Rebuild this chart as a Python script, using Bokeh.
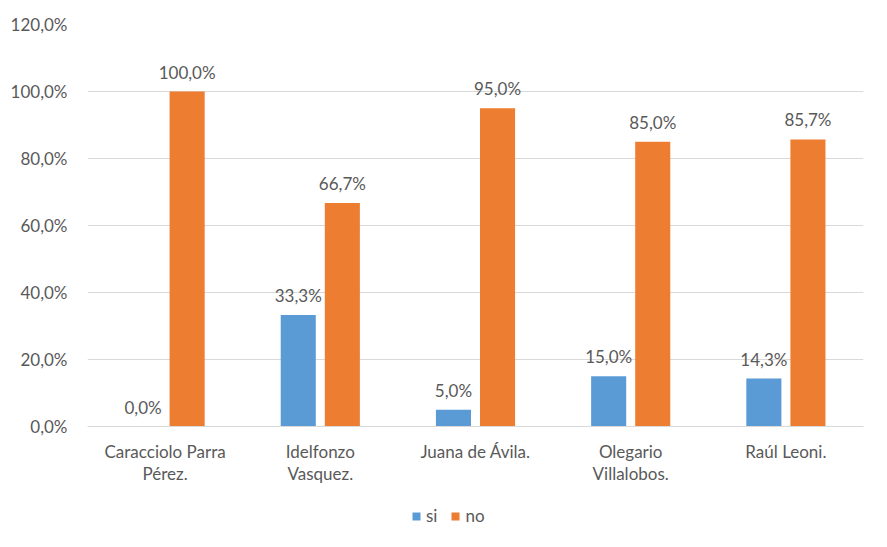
from bokeh.plotting import figure
from bokeh.models import ColumnDataSource, FixedTicker, Legend, LegendItem
from bokeh.transform import dodge
from bokeh.core.properties import value
from bokeh.embed import file_html
from bokeh.resources import INLINE

categories = ["Caracciolo Parra\nPérez.", "Idelfonzo\nVasquez.", "Juana de Ávila.",
              "Olegario\nVillalobos.", "Raúl Leoni."]
si = [0.0, 33.3, 5.0, 15.0, 14.3]
no = [100.0, 66.7, 95.0, 85.0, 85.7]
y_ticks = [0, 20, 40, 60, 80, 100, 120]
y_tick_labels = ["0,0%", "20,0%", "40,0%", "60,0%", "80,0%", "100,0%", "120,0%"]

FONT = "Lato"
FS = "17px"
TXT = "#595959"
BLUE = "#5B9BD5"
ORANGE = "#ED7D31"

# layout geometry (pixels)
W, H = 871, 531
LEFT, RIGHT, TOP = 87, 8, 24
FRAME_H = H - TOP
PLOT_H = 402            # pixels between 0 % and 120 %
Y_MAX = 120
y_min = -Y_MAX * (FRAME_H - PLOT_H) / PLOT_H   # room below the axis for labels + legend

def fmt(v):
    return f"{v:.1f}%".replace(".", ",")

src = ColumnDataSource(dict(
    cat=categories, si=si, no=no,
    si_lbl=[fmt(v) for v in si], no_lbl=[fmt(v) for v in no],
))

p = figure(x_range=categories, y_range=(y_min, Y_MAX),
           width=W, height=H,
           min_border_left=LEFT, min_border_right=RIGHT, min_border_top=TOP, min_border_bottom=0,
           output_backend="svg", toolbar_location=None)

r_si = p.vbar(x=dodge("cat", -0.142, range=p.x_range), top="si", bottom=0, width=0.226,
              source=src, color=BLUE, line_color=None)
r_no = p.vbar(x=dodge("cat", 0.142, range=p.x_range), top="no", bottom=0, width=0.226,
              source=src, color=ORANGE, line_color=None)

for col, off in (("si", -0.142), ("no", 0.142)):
    p.text(x=dodge("cat", off, range=p.x_range), y=col, text=col + "_lbl", source=src,
           text_align="center", text_baseline="bottom", y_offset=-9,
           text_font=value(FONT), text_font_size=FS, text_color=TXT)

p.outline_line_color = None
p.background_fill_color = "white"
p.border_fill_color = "white"

p.xgrid.grid_line_color = None
p.ygrid.grid_line_color = "#D9D9D9"
p.ygrid.ticker = FixedTicker(ticks=y_ticks)

ya = p.yaxis[0]
ya.ticker = FixedTicker(ticks=y_ticks)
ya.major_label_overrides = {t: l for t, l in zip(y_ticks, y_tick_labels)}
ya.axis_line_color = None
ya.major_tick_line_color = None
ya.minor_tick_line_color = None
ya.major_label_standoff = 14
ya.major_label_text_font = FONT
ya.major_label_text_font_size = FS
ya.major_label_text_color = TXT

xa = p.xaxis[0]
xa.fixed_location = 0
xa.axis_line_color = "#D9D9D9"
xa.major_tick_line_color = None
xa.minor_tick_line_color = None
xa.major_label_standoff = 8
xa.major_label_text_font = FONT
xa.major_label_text_font_size = FS
xa.major_label_text_color = TXT
xa.major_label_text_line_height = 1.07

legend = Legend(items=[LegendItem(label="si", renderers=[r_si]),
                       LegendItem(label="no", renderers=[r_no])],
                orientation="horizontal", location=(324, 5),
                glyph_width=10, glyph_height=10, label_text_font=FONT,
                label_text_font_size=FS, label_text_color=TXT, label_width=0,
                border_line_color=None, background_fill_alpha=0,
                spacing=13, label_standoff=5, padding=0, margin=0)
p.add_layout(legend, "center")

open("out.html", "w").write(file_html(p, INLINE))
